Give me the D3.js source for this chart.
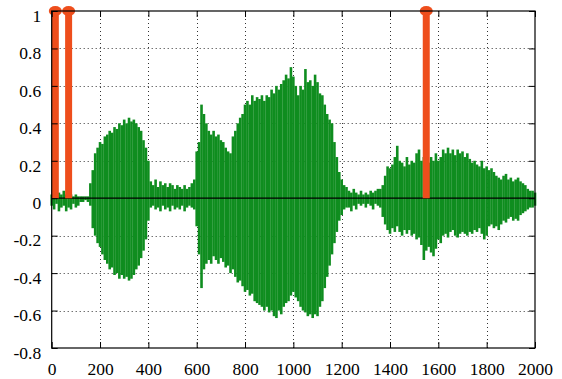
<!DOCTYPE html>
<html>
<head>
<meta charset="utf-8">
<script src="https://cdn.jsdelivr.net/npm/d3@7"></script>
<style>
  html, body { margin: 0; padding: 0; background: #fff; }
  svg { display: block; }
  svg text { font-family: "Liberation Serif", "Times New Roman", Times, Tinos, serif; font-size: 17.5px; fill: #000; }
</style>
</head>
<body>
<svg id="chart" width="562" height="379"></svg>
<script>
// Sample spacing of the waveform envelope (in samples)
const sampleStep = 10;

// Positive envelope of the waveform, one value every sampleStep samples (x = 0 .. 2000)
const upper = [
  0.02,0.03,0.01,0.03,0.02,0.04,0.02,0.03,0.02,0.01,0.02,0.01,0.01,0.01,0.01,0.01,
  0.08,0.15,0.24,0.27,0.30,0.29,0.33,0.34,0.36,0.35,0.38,0.37,0.40,0.39,0.42,0.40,0.43,0.41,0.42,0.40,0.38,0.36,0.31,0.27,0.20,
  0.09,0.07,0.10,0.06,0.09,0.07,0.08,0.06,0.08,0.07,0.05,0.07,0.06,0.05,0.07,0.05,0.06,0.08,0.10,
  0.25,0.30,0.50,0.45,0.40,0.36,0.34,0.36,0.33,0.34,
  0.31,0.30,0.27,0.25,0.24,0.33,0.36,0.40,0.43,0.45,
  0.50,0.52,0.50,0.55,0.52,0.54,0.53,0.55,0.52,0.55,
  0.54,0.58,0.56,0.60,0.58,0.61,0.63,0.66,0.64,0.70,
  0.65,0.60,0.55,0.60,0.58,0.69,0.62,0.63,0.60,0.66,
  0.62,0.56,0.55,0.50,0.45,0.42,0.40,0.30,0.22,0.14,
  0.10,0.07,0.06,
  0.04,0.03,0.05,0.03,0.02,0.04,0.02,0.03,0.02,0.04,0.03,0.04,0.05,
  0.05,0.07,0.12,0.17,0.16,0.18,0.22,0.28,0.20,0.19,
  0.17,0.22,0.18,0.20,0.19,0.24,0.26,0.20,0.22,0.21,
  0.19,0.22,0.20,0.24,0.20,0.22,0.26,0.24,0.27,0.24,
  0.26,0.23,0.26,0.24,0.25,0.22,0.24,0.21,0.19,0.20,
  0.18,0.17,0.20,0.16,0.17,0.15,0.16,0.14,0.12,0.11,
  0.10,0.12,0.13,0.10,0.11,0.09,0.10,0.11,0.09,0.08,
  0.07,0.05,0.04,0.04,0.03
];

// Negative envelope of the waveform, same sampling
const lower = [
  -0.04,-0.06,-0.03,-0.07,-0.05,-0.04,-0.07,-0.05,-0.06,-0.03,-0.05,-0.04,-0.02,-0.02,-0.01,-0.02,
  -0.04,-0.16,-0.20,-0.24,-0.26,-0.30,-0.33,-0.35,-0.38,-0.37,-0.41,-0.40,-0.43,-0.41,-0.43,-0.42,-0.44,-0.43,-0.41,-0.38,-0.36,-0.32,-0.28,-0.22,-0.12,
  -0.05,-0.04,-0.06,-0.05,-0.07,-0.04,-0.06,-0.05,-0.07,-0.04,-0.06,-0.05,-0.06,-0.04,-0.07,-0.05,-0.04,-0.05,-0.06,
  -0.15,-0.30,-0.48,-0.38,-0.35,-0.33,-0.35,-0.31,-0.33,-0.35,
  -0.32,-0.34,-0.37,-0.36,-0.40,-0.38,-0.42,-0.45,-0.44,-0.47,
  -0.50,-0.49,-0.52,-0.51,-0.55,-0.56,-0.57,-0.58,-0.60,-0.58,
  -0.61,-0.60,-0.63,-0.64,-0.60,-0.62,-0.58,-0.56,-0.55,-0.52,
  -0.50,-0.53,-0.55,-0.58,-0.60,-0.61,-0.63,-0.62,-0.64,-0.62,
  -0.63,-0.58,-0.55,-0.48,-0.42,-0.36,-0.30,-0.24,-0.18,-0.12,
  -0.09,-0.06,-0.05,
  -0.05,-0.07,-0.04,-0.06,-0.03,-0.04,-0.03,-0.05,-0.03,-0.04,-0.06,-0.03,-0.04,
  -0.05,-0.10,-0.14,-0.17,-0.19,-0.16,-0.18,-0.15,-0.18,-0.20,
  -0.17,-0.19,-0.17,-0.20,-0.19,-0.22,-0.21,-0.25,-0.33,-0.28,
  -0.26,-0.29,-0.31,-0.27,-0.22,-0.24,-0.20,-0.19,-0.21,-0.18,
  -0.17,-0.20,-0.21,-0.19,-0.18,-0.19,-0.20,-0.18,-0.19,-0.17,
  -0.18,-0.16,-0.19,-0.22,-0.20,-0.15,-0.14,-0.16,-0.15,-0.17,
  -0.14,-0.12,-0.13,-0.11,-0.10,-0.12,-0.11,-0.12,-0.09,-0.08,
  -0.07,-0.06,-0.05,-0.05,-0.04
];

// Detected pulses (stems of height 1)
const pulseX = [15, 70, 1550];
const pulseY = [1, 1, 1];

// Axis ticks
const xTickValues = [0, 200, 400, 600, 800, 1000, 1200, 1400, 1600, 1800, 2000];
const yTickValues = [-0.8, -0.6, -0.4, -0.2, 0, 0.2, 0.4, 0.6, 0.8, 1];

const svg = d3.select("#chart");
const plot = { left: 51.7, right: 535, top: 11, bottom: 348 };
const labelFont = "'Liberation Serif', 'Times New Roman', Times, Tinos, serif";

const x = d3.scaleLinear().domain([0, 2000]).range([plot.left, plot.right]);
const y = d3.scaleLinear().domain([-0.8, 1]).range([plot.bottom, plot.top]);

const green = "#0f8d1f";
const orange = "#ee4e1c";

// Dotted grid
const grid = svg.append("g").attr("stroke", "#333").attr("stroke-width", 1)
  .attr("stroke-dasharray", "1,3");
grid.selectAll("line.gx")
  .data(xTickValues.filter(v => v > 0 && v < 2000))
  .join("line")
  .attr("x1", d => Math.round(x(d)) + 0.5).attr("x2", d => Math.round(x(d)) + 0.5)
  .attr("y1", plot.top).attr("y2", plot.bottom);
grid.selectAll("line.gy")
  .data(yTickValues.filter(v => v > -0.8 && v < 1 && v !== 0))
  .join("line")
  .attr("y1", d => Math.round(y(d)) + 0.5).attr("y2", d => Math.round(y(d)) + 0.5)
  .attr("x1", plot.left).attr("x2", plot.right);

// Waveform: vertical strokes from the negative to the positive envelope
const samples = upper.map((u, i) => ({ t: i * sampleStep, hi: u, lo: lower[i] }));
svg.append("g")
  .attr("stroke", green)
  .attr("stroke-width", 2.6)
  .selectAll("line")
  .data(samples)
  .join("line")
  .attr("x1", d => x(d.t)).attr("x2", d => x(d.t))
  .attr("y1", d => y(d.lo)).attr("y2", d => y(d.hi));

// Zero baseline
svg.append("line")
  .attr("x1", plot.left).attr("x2", plot.right)
  .attr("y1", y(0)).attr("y2", y(0))
  .attr("stroke", "#000").attr("stroke-width", 1.2);

// Pulse stems with markers
const pulses = pulseX.map((px, i) => ({ t: px, v: pulseY[i] }));
const pg = svg.append("g");
pg.selectAll("line")
  .data(pulses)
  .join("line")
  .attr("x1", d => x(d.t)).attr("x2", d => x(d.t))
  .attr("y1", y(0)).attr("y2", d => y(d.v))
  .attr("stroke", orange).attr("stroke-width", 7);
pg.selectAll("ellipse")
  .data(pulses)
  .join("ellipse")
  .attr("cx", d => x(d.t)).attr("cy", d => y(d.v))
  .attr("rx", 6.5).attr("ry", 5)
  .attr("fill", orange);

// Axes: ticks point inward on all four sides
const fmt = d => String(d);
const axB = svg.append("g").attr("transform", `translate(0,${plot.bottom})`)
  .call(d3.axisBottom(x).tickValues(xTickValues).tickSize(-6).tickFormat(fmt));
axB.selectAll("text").attr("dy", null).attr("y", 27);
const axL = svg.append("g").attr("transform", `translate(${plot.left},0)`)
  .call(d3.axisLeft(y).tickValues(yTickValues).tickSize(-6).tickFormat(fmt));
axL.selectAll("text").attr("dy", null).attr("y", 10.3).attr("x", -10.5);
svg.append("g").attr("transform", `translate(0,${plot.top})`)
  .call(d3.axisTop(x).tickValues(xTickValues).tickSize(-6).tickFormat(""));
svg.append("g").attr("transform", `translate(${plot.right},0)`)
  .call(d3.axisRight(y).tickValues(yTickValues).tickSize(-6).tickFormat(""));
svg.selectAll(".domain").remove();
svg.selectAll("g").attr("font-family", labelFont).attr("font-size", 17.5);
svg.selectAll(".tick line").attr("stroke", "#000");
svg.selectAll(".tick text")
  .attr("font-family", labelFont)
  .style("font-family", labelFont)
  .style("font-size", "17.5px");

// Plot border
svg.append("rect")
  .attr("x", plot.left).attr("y", plot.top)
  .attr("width", plot.right - plot.left).attr("height", plot.bottom - plot.top)
  .attr("fill", "none").attr("stroke", "#000").attr("stroke-width", 1.2);
</script>
</body>
</html>
